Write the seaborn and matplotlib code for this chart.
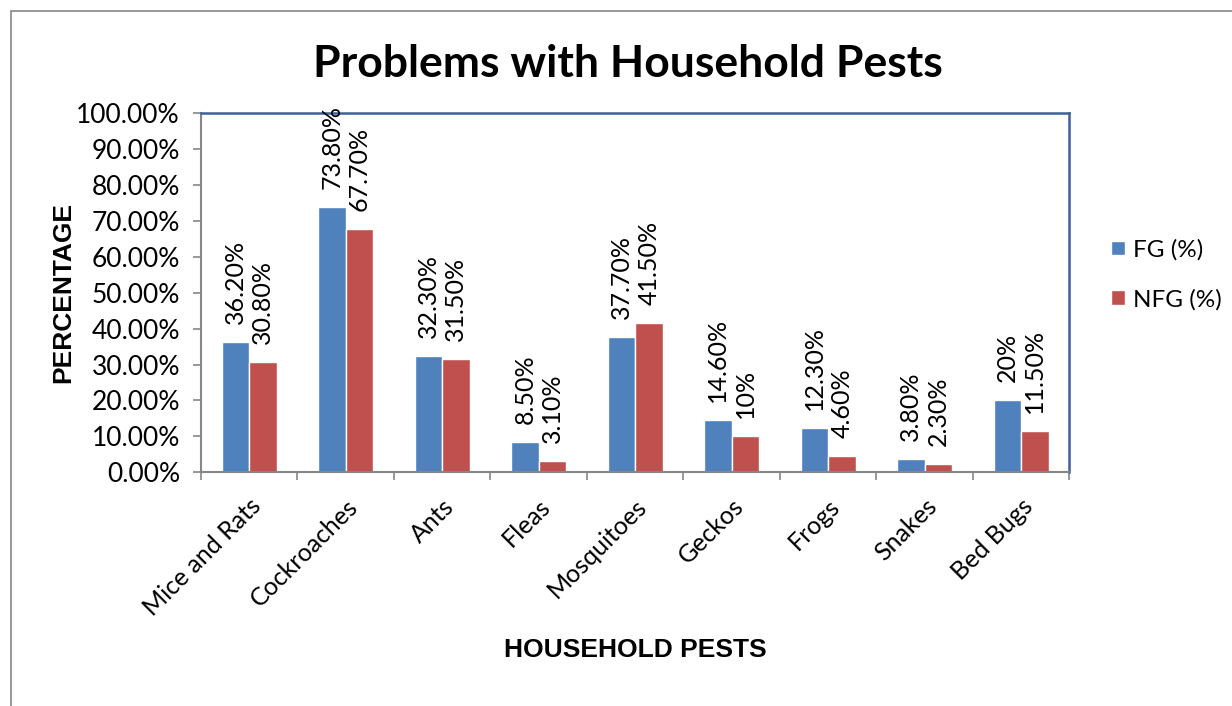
import matplotlib.pyplot as plt
import matplotlib.ticker as ticker
import pandas as pd
import seaborn as sns

pests = ['Mice and Rats', 'Cockroaches', 'Ants', 'Fleas', 'Mosquitoes',
         'Geckos', 'Frogs', 'Snakes', 'Bed Bugs']
fg = [36.2, 73.8, 32.3, 8.5, 37.7, 14.6, 12.3, 3.8, 20.0]
nfg = [30.8, 67.7, 31.5, 3.1, 41.5, 10.0, 4.6, 2.3, 11.5]
fg_labels = ['36.20%', '73.80%', '32.30%', '8.50%', '37.70%', '14.60%', '12.30%', '3.80%', '20%']
nfg_labels = ['30.80%', '67.70%', '31.50%', '3.10%', '41.50%', '10%', '4.60%', '2.30%', '11.50%']
series = ['FG (%)', 'NFG (%)']

df = pd.DataFrame({
    'pest': pests * 2,
    'value': fg + nfg,
    'series': [series[0]] * len(pests) + [series[1]] * len(pests),
})

sns.set_style("white")
plt.rcParams['font.family'] = ['Lato', 'DejaVu Sans']
plt.rcParams['text.color'] = 'black'
plt.rcParams['axes.labelcolor'] = 'black'
plt.rcParams['xtick.labelcolor'] = 'black'
plt.rcParams['ytick.labelcolor'] = 'black'

fig = plt.figure(figsize=(12.32, 7.06), dpi=100)
ax = fig.add_axes([0.163, 0.331, 0.705, 0.509])

sns.barplot(data=df, x='pest', y='value', hue='series', order=pests,
            hue_order=series, palette=['#4F81BD', '#C0504D'],
            width=0.57, gap=0, saturation=1, errorbar=None, ax=ax, legend=True)

# labels above bars (Excel leaves a gap of ~18px)
for cont, labs in zip(ax.containers, [fg_labels, nfg_labels]):
    ax.bar_label(cont, labels=labs, rotation=90, padding=13, fontsize=18)

ax.set_xlim(-0.5, len(pests) - 0.5)
ax.set_ylim(0, 100)
ax.yaxis.set_major_locator(ticker.MultipleLocator(10))
ax.yaxis.set_major_formatter(ticker.FuncFormatter(lambda v, p: f'{v:.2f}%'))
ax.tick_params(axis='y', which='major', length=6, width=1.2, color='#868686',
               labelsize=19, pad=9, left=True)

# x ticks at category borders
ax.set_xticks(range(len(pests)))
ax.set_xticklabels(pests, rotation=45, ha='right', rotation_mode='anchor', fontsize=18)
ax.xaxis.set_minor_locator(ticker.FixedLocator([i - 0.5 for i in range(len(pests) + 1)]))
ax.tick_params(axis='x', which='major', length=0, pad=16)
ax.tick_params(axis='x', which='minor', length=6, width=1.2, color='#868686', bottom=True)

for side in ['left', 'bottom']:
    ax.spines[side].set_color('#868686')
    ax.spines[side].set_linewidth(1.5)
for side in ['top', 'right']:
    ax.spines[side].set_color('#3D6098')
    ax.spines[side].set_linewidth(1.8)

ax.set_xlabel('HOUSEHOLD PESTS', fontsize=19, fontweight='bold',
              family=['Liberation Sans'])
ax.set_ylabel('PERCENTAGE', fontsize=19, fontweight='bold',
              family=['Liberation Sans'])
ax.xaxis.set_label_coords(0.5, -0.46)
ax.yaxis.set_label_coords(-0.145, 0.5)

fig.suptitle('Problems with Household Pests', fontsize=32, fontweight='bold',
             x=0.51, y=0.937)

leg = ax.legend(loc='center left', bbox_to_anchor=(1.037, 0.55), frameon=False,
                fontsize=17.5, handlelength=0.55, handleheight=0.55,
                labelspacing=1.15, handletextpad=0.35, borderaxespad=0)

# outer chart frame
fig.patches.append(plt.Rectangle((0.009, -0.02), 1.1, 1.005, transform=fig.transFigure,
                                 fill=False, edgecolor='#868686', linewidth=1.2))

fig.savefig('out.png', dpi=100)
